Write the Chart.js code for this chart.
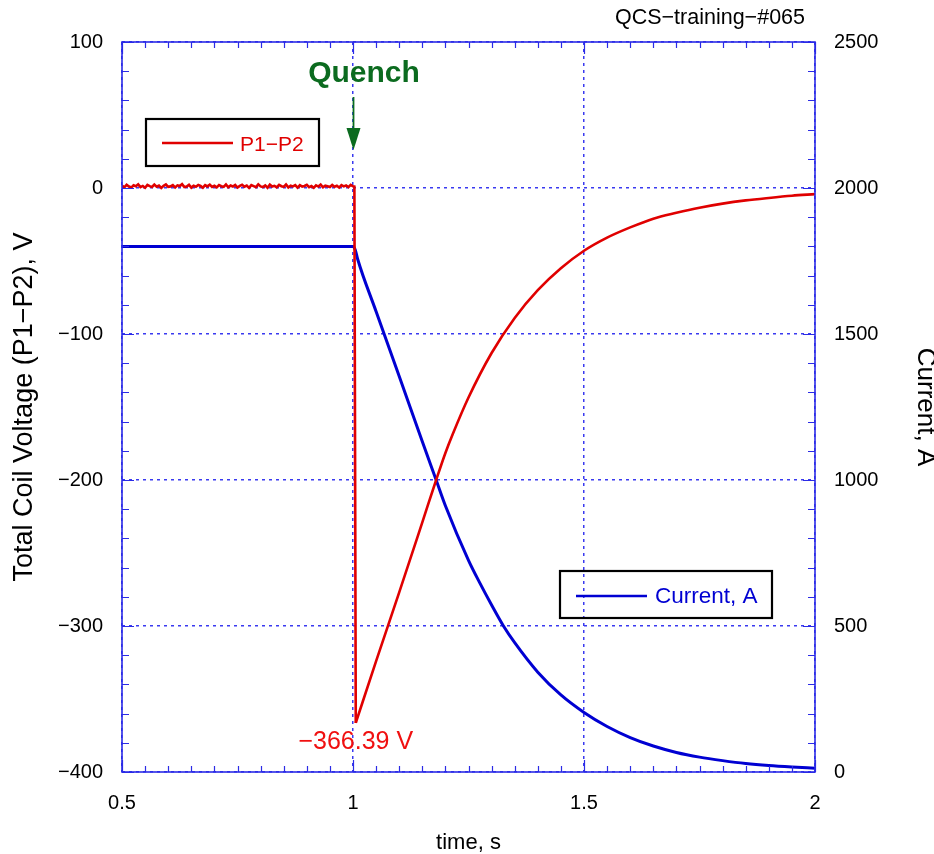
<!DOCTYPE html>
<html>
<head>
<meta charset="utf-8">
<script src="https://cdn.jsdelivr.net/npm/chart.js@4.4.0/dist/chart.umd.min.js"></script>
<style>
  html, body { margin: 0; padding: 0; background: #fff; }
</style>
</head>
<body>
<canvas id="quench" width="934" height="854"></canvas>
<script>
// time axis for the coil voltage trace, s
const timeV = [
  0.500, 0.505, 0.510, 0.515, 0.520, 0.525, 0.530, 0.535, 0.540, 0.545,
  0.550, 0.555, 0.560, 0.565, 0.570, 0.575, 0.580, 0.585, 0.590, 0.595,
  0.600, 0.605, 0.610, 0.615, 0.620, 0.625, 0.630, 0.635, 0.640, 0.645,
  0.650, 0.655, 0.660, 0.665, 0.670, 0.675, 0.680, 0.685, 0.690, 0.695,
  0.700, 0.705, 0.710, 0.715, 0.720, 0.725, 0.730, 0.735, 0.740, 0.745,
  0.750, 0.755, 0.760, 0.765, 0.770, 0.775, 0.780, 0.785, 0.790, 0.795,
  0.800, 0.805, 0.810, 0.815, 0.820, 0.825, 0.830, 0.835, 0.840, 0.845,
  0.850, 0.855, 0.860, 0.865, 0.870, 0.875, 0.880, 0.885, 0.890, 0.895,
  0.900, 0.905, 0.910, 0.915, 0.920, 0.925, 0.930, 0.935, 0.940, 0.945,
  0.950, 0.955, 0.960, 0.965, 0.970, 0.975, 0.980, 0.985, 0.990, 0.995,
  1.000, 1.003, 1.006, 1.05, 1.10, 1.15, 1.18, 1.20, 1.216, 1.25,
  1.30, 1.35, 1.40, 1.45, 1.50, 1.55, 1.60, 1.65, 1.70, 1.75,
  1.80, 1.85, 1.90, 1.95, 2.00
];
// P1-P2, V
const voltage = [
  1.6, 0.5, 2.2, 1.0, 0.3, 1.9, 1.2, 2.5, 0.6, 1.4,
  0.2, 2.1, 1.3, 0.7, 2.3, 0.9, 1.7, 0.1, 1.5, 2.4,
  0.8, 1.1, 2.0, 0.4, 1.8, 1.3, 2.6, 0.6, 1.0, 2.2,
  0.3, 1.6, 0.9, 2.1, 1.4, 0.2, 1.9, 1.1, 2.3, 0.7,
  1.5, 0.4, 2.0, 1.2, 0.8, 2.4, 0.5, 1.7, 1.0, 2.1,
  0.3, 1.4, 2.2, 0.9, 1.6, 0.1, 2.0, 1.3, 0.6, 2.5,
  1.1, 0.7, 1.8, 0.2, 2.3, 1.0, 1.5, 0.5, 2.1, 1.2,
  0.8, 2.4, 0.4, 1.6, 1.1, 2.0, 0.3, 1.9, 0.9, 1.4,
  2.2, 0.6, 1.3, 0.1, 1.8, 1.0, 2.3, 0.5, 1.6, 1.2,
  0.7, 2.1, 0.9, 1.5, 0.3, 2.0, 1.1, 1.7, 0.6, 2.2,
  1.2, 1.0, -366.39, -324, -277, -229, -200, -181.5, -168.5, -143.5,
  -113, -89, -70, -55, -43, -34, -27, -21, -17, -13.5,
  -10.7, -8.5, -6.8, -5.3, -4.2
];
// index of the voltage minimum (end of the drop)
const peakIndex = 102;
// time axis for the current trace, s
const timeI = [
  0.50, 1.00, 1.005, 1.01, 1.05, 1.10, 1.15, 1.18, 1.20, 1.25,
  1.275, 1.30, 1.325, 1.35, 1.40, 1.45, 1.50, 1.55, 1.60, 1.65,
  1.70, 1.75, 1.80, 1.85, 1.90, 1.95, 2.00
];
// current, A
const current = [
  1800, 1800, 1788, 1757, 1577, 1355, 1132, 1000, 912, 725,
  646, 572, 502, 443, 342, 264, 204, 156, 118, 89,
  67, 51, 39, 29, 22, 17, 13
];
const xTicks = [0.5, 1, 1.5, 2];
const vTicks = [-400, -300, -200, -100, 0, 100];
const iTicks = [0, 500, 1000, 1500, 2000, 2500];
const peakLabel = '\u2212366.39 V';

const FONT = "'Liberation Sans', Arial, sans-serif";
const AXIS_BLUE = '#2b2be6';
const GRID_BLUE = '#3a3af0';
const RED = '#e00000';
const BLUE = '#0000d2';
const GREEN = '#0b6b1f';

function minus(v) {
  return v < 0 ? '\u2212' + Math.abs(v) : String(v);
}

const pairs = (xs, ys) => xs.map((x, i) => ({ x: x, y: ys[i] }));
const voltPts = pairs(timeV, voltage);

const decor = {
  id: 'decor',
  afterDraw(chart) {
    const ctx = chart.ctx;
    const a = chart.chartArea;
    const x = chart.scales.x, yV = chart.scales.yV;
    ctx.save();

    // inward tick marks, all four sides
    ctx.strokeStyle = AXIS_BLUE;
    ctx.lineWidth = 1.2;
    ctx.beginPath();
    for (let k = 0; k <= 30; k++) {
      const px = Math.round(x.getPixelForValue(0.5 + k * 0.05)) + 0.5;
      const len = k % 10 === 0 ? 12 : 6;
      ctx.moveTo(px, a.bottom); ctx.lineTo(px, a.bottom - len);
      ctx.moveTo(px, a.top); ctx.lineTo(px, a.top + len);
    }
    for (let k = 0; k <= 25; k++) {
      const py = Math.round(yV.getPixelForValue(-400 + k * 20)) + 0.5;
      const len = k % 5 === 0 ? 12 : 7;
      ctx.moveTo(a.left, py); ctx.lineTo(a.left + len, py);
      ctx.moveTo(a.right, py); ctx.lineTo(a.right - len, py);
    }
    ctx.stroke();

    // frame
    ctx.lineWidth = 1.6;
    ctx.strokeRect(a.left, a.top, a.right - a.left, a.bottom - a.top);

    // legend boxes
    ctx.lineWidth = 2.2;
    ctx.strokeStyle = '#000';
    ctx.strokeRect(146, 119, 173, 47);
    ctx.strokeRect(560, 571, 212, 47);
    ctx.lineWidth = 2.5;
    ctx.strokeStyle = RED;
    ctx.beginPath(); ctx.moveTo(162, 143); ctx.lineTo(233, 143); ctx.stroke();
    ctx.strokeStyle = BLUE;
    ctx.beginPath(); ctx.moveTo(576, 596); ctx.lineTo(647, 596); ctx.stroke();
    ctx.textBaseline = 'middle';
    ctx.textAlign = 'left';
    ctx.font = '21px ' + FONT;
    ctx.fillStyle = RED;
    ctx.fillText('P1\u2212P2', 240, 145);
    ctx.font = '22.5px ' + FONT;
    ctx.fillStyle = BLUE;
    ctx.fillText('Current, A', 655, 597);

    // quench marker
    const qx = Math.round(x.getPixelForValue(timeV[100])) + 0.5;
    ctx.fillStyle = GREEN;
    ctx.strokeStyle = GREEN;
    ctx.font = 'bold 30px ' + FONT;
    ctx.textAlign = 'center';
    ctx.fillText('Quench', 364, 74);
    ctx.lineWidth = 1.8;
    ctx.beginPath(); ctx.moveTo(qx, 97); ctx.lineTo(qx, 130); ctx.stroke();
    ctx.beginPath();
    ctx.moveTo(qx - 7, 128); ctx.lineTo(qx + 7, 128); ctx.lineTo(qx, 150);
    ctx.closePath(); ctx.fill();

    // peak voltage label
    ctx.fillStyle = '#f01010';
    ctx.font = '25px ' + FONT;
    ctx.fillText(peakLabel, x.getPixelForValue(timeV[peakIndex]), 742);

    // run name
    ctx.fillStyle = '#000';
    ctx.font = '21.5px ' + FONT;
    ctx.textAlign = 'right';
    ctx.fillText('QCS\u2212training\u2212#065', 805, 18);
    ctx.restore();
  }
};

const tickFont = { family: FONT, size: 20 };

new Chart('quench', {
  type: 'scatter',
  data: {
    datasets: [
      {
        // flat part and the drop: straight segments
        label: 'P1-P2',
        data: voltPts.slice(0, peakIndex + 1),
        yAxisID: 'yV',
        showLine: true,
        borderColor: RED,
        borderWidth: 2.6,
        pointRadius: 0,
        tension: 0
      },
      {
        // recovery after the peak
        label: 'P1-P2 recovery',
        data: voltPts.slice(peakIndex),
        yAxisID: 'yV',
        showLine: true,
        borderColor: RED,
        borderWidth: 2.6,
        pointRadius: 0,
        cubicInterpolationMode: 'monotone'
      },
      {
        label: 'Current, A',
        data: pairs(timeI, current),
        yAxisID: 'yI',
        showLine: true,
        borderColor: BLUE,
        borderWidth: 3,
        pointRadius: 0,
        cubicInterpolationMode: 'monotone'
      }
    ]
  },
  options: {
    responsive: false,
    animation: false,
    layout: { padding: { top: 42 } },
    plugins: { legend: { display: false }, tooltip: { enabled: false } },
    scales: {
      x: {
        type: 'linear', min: 0.5, max: 2,
        afterBuildTicks: s => { s.ticks = xTicks.map(v => ({ value: v })); },
        afterFit: s => { s.height = 82; },
        grid: { color: GRID_BLUE, lineWidth: 1.5, drawTicks: false },
        border: { display: false, dash: [3, 4] },
        ticks: { padding: 19, color: '#000', font: tickFont, callback: v => String(v) },
        title: { display: true, text: 'time, s', color: '#000', font: { family: FONT, size: 22, lineHeight: 1 }, padding: 0 }
      },
      yV: {
        type: 'linear', position: 'left', min: -400, max: 100,
        afterBuildTicks: s => { s.ticks = vTicks.map(v => ({ value: v })); },
        afterFit: s => { s.width = 122; },
        grid: { color: GRID_BLUE, lineWidth: 1.5, drawTicks: false },
        border: { display: false, dash: [3, 4] },
        ticks: { padding: 19, color: '#000', font: tickFont, callback: v => minus(v) },
        title: { display: true, text: 'Total Coil Voltage (P1\u2212P2), V', color: '#000', font: { family: FONT, size: 27, lineHeight: 1.2 }, padding: { top: 8 } }
      },
      yI: {
        type: 'linear', position: 'right', min: 0, max: 2500,
        afterBuildTicks: s => { s.ticks = iTicks.map(v => ({ value: v })); },
        afterFit: s => { s.width = 119; },
        grid: { drawOnChartArea: false, drawTicks: false },
        border: { display: false },
        ticks: { padding: 19, color: '#000', font: tickFont, callback: v => String(v) },
        title: { display: true, text: 'Current, A', color: '#000', font: { family: FONT, size: 26, lineHeight: 0.7 }, padding: 0 }
      }
    }
  },
  plugins: [decor]
});
</script>
</body>
</html>
